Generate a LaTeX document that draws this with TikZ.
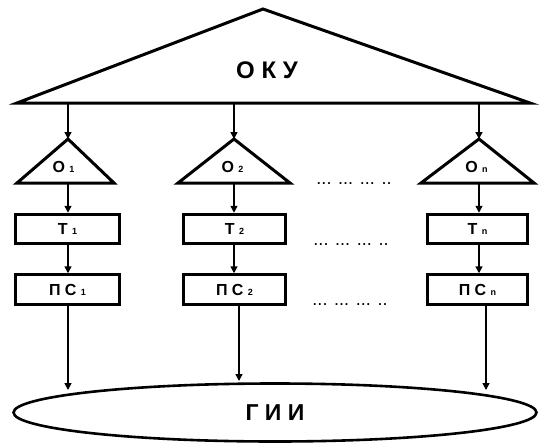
\documentclass[tikz,border=0pt]{standalone}
\usepackage{fontspec}
\setmainfont{Liberation Sans}
\usetikzlibrary{arrows.meta,shapes.geometric}
\tikzset{%
  tipG/.tip={Triangle[length=7pt,width=7pt]},
  blok/.style={draw, line width=3pt, inner sep=0pt, minimum height=29.5pt, font=\fontsize{16}{16}\selectfont\bfseries},
  strel/.style={line width=1.5pt, -tipG},
  treug/.style={line width=3pt, line join=miter},
  metka/.style={anchor=base, inner sep=0pt, font=\fontsize{16}{16}\selectfont\bfseries},
  tochki/.style={anchor=base, inner sep=0pt, font=\fontsize{18}{18}\selectfont}
}
\newcommand{\ind}[1]{{\fontsize{9}{9}\selectfont #1}}

\begin{document}
\begin{tikzpicture}[x=1pt,y=-1pt]
\useasboundingbox (0,0) rectangle (539,445);
% big triangle
\coordinate (okuTop) at (263,9);
\draw[treug] (17,103) -- (okuTop) -- (530,103) -- cycle;
\node[anchor=base, inner sep=0pt, font=\fontsize{24}{24}\selectfont\bfseries] (oku) at (267,78) {О К У};
\coordinate (a1) at (68,103);
\coordinate (a2) at (234,103);
\coordinate (a3) at (479,103);
% small triangles
\coordinate (o1top) at (68,139);
\coordinate (o2top) at (234,139);
\coordinate (o3top) at (479,139);
\draw[treug] (17,183) -- (o1top) -- (114,183) -- cycle;
\draw[treug] (178,183) -- (o2top) -- (290,183) -- cycle;
\draw[treug] (421,183) -- (o3top) -- (534,183) -- cycle;
\coordinate (o1bot) at (68,183);
\coordinate (o2bot) at (234,183);
\coordinate (o3bot) at (479,183);
\node[metka] (o1) at (63.5,172) {О \ind{1}};
\node[metka] (o2) at (232.5,172) {О \ind{2}};
\node[metka] (o3) at (476.5,172) {О \ind{n}};
% boxes
\node[blok, minimum width=104pt] (t1) at (67.5,229) {Т \ind{1}};
\node[blok, minimum width=102pt] (t2) at (234.5,229) {Т \ind{2}};
\node[blok, minimum width=100pt] (t3) at (477.5,229) {Т \ind{n}};
\node[blok, minimum width=104pt] (ps1) at (67.5,289.5) {П С \ind{1}};
\node[blok, minimum width=102pt] (ps2) at (234.5,289.5) {П С \ind{2}};
\node[blok, minimum width=100pt] (ps3) at (477.5,289.5) {П С \ind{n}};
% dots
\node[tochki] (d1) at (354,184) {... ... ... ..};
\node[tochki] (d2) at (351,245) {... ... ... ..};
\node[tochki] (d3) at (350,305) {... ... ... ..};
% ellipse
\node[draw, ellipse, line width=2.6pt, inner sep=0pt, minimum width=523pt, minimum height=58pt, font=\fontsize{23}{23}\selectfont\bfseries] (gii) at (275,412.5) {Г И И};
\coordinate (g1) at (68,390);
\coordinate (g2) at (239,381);
\coordinate (g3) at (486,390);
% arrows
\draw[strel] (a1) -- (o1top);
\draw[strel] (a2) -- (o2top);
\draw[strel] (a3) -- (o3top);
\draw[strel] (o1bot) -- (t1.north -| o1bot);
\draw[strel] (o2bot) -- (t2.north -| o2bot);
\draw[strel] (o3bot) -- (t3.north -| o3bot);
\draw[strel] (t1.south -| o1bot) -- (ps1.north -| o1bot);
\draw[strel] (t2.south -| o2bot) -- (ps2.north -| o2bot);
\draw[strel] (t3.south -| o3bot) -- (ps3.north -| o3bot);
\draw[strel] (ps1.south -| g1) -- (g1);
\draw[strel] (ps2.south -| g2) -- (g2);
\draw[strel] (ps3.south -| g3) -- (g3);
\end{tikzpicture}
\end{document}
